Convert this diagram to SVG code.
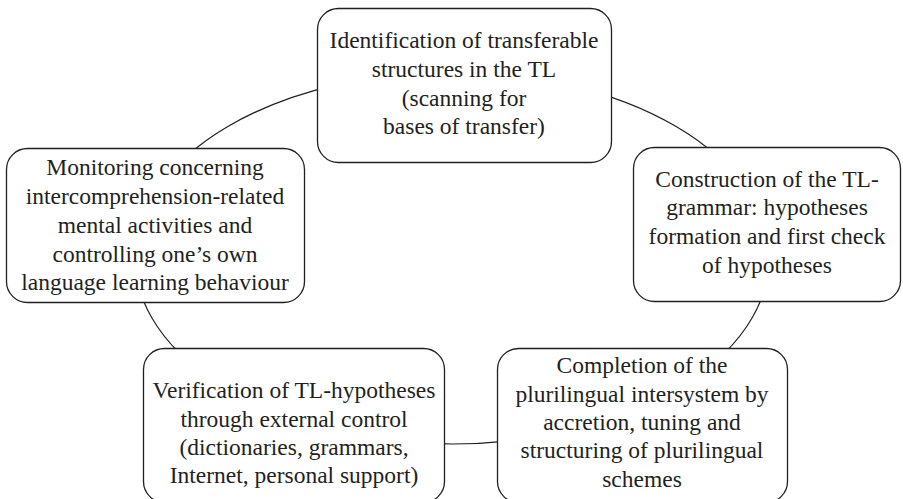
<svg xmlns="http://www.w3.org/2000/svg" width="903" height="499" viewBox="0 0 903 499">
<style>
.box{fill:#fff;stroke:#231f20;stroke-width:1.3}
.conn{fill:none;stroke:#231f20;stroke-width:1.2}
text{font-family:"Liberation Serif","Times New Roman",serif;font-size:23.5px;fill:#231f20;text-anchor:middle}
</style>
<rect width="903" height="499" fill="#fff"/>
<g id="connectors">
<ellipse class="conn" cx="452" cy="258" rx="317" ry="186"/>
</g>
<g id="node-top">
<rect class="box" x="317.5" y="8.5" width="294" height="154" rx="21"/>
<text x="464" y="48">Identification of transferable</text>
<text x="464" y="77">structures in the TL</text>
<text x="464" y="106">(scanning for</text>
<text x="464" y="134">bases of transfer)</text>
</g>
<g id="node-right">
<rect class="box" x="633.5" y="147.5" width="267" height="154" rx="21"/>
<text x="767" y="187">Construction of the TL-</text>
<text x="767" y="215">grammar: hypotheses</text>
<text x="767" y="244">formation and first check</text>
<text x="767" y="273">of hypotheses</text>
</g>
<g id="node-bottom-right">
<rect class="box" x="497.5" y="348.5" width="290" height="154" rx="21"/>
<text x="642" y="373">Completion of the</text>
<text x="642" y="402">plurilingual intersystem by</text>
<text x="642" y="430">accretion, tuning and</text>
<text x="642" y="458">structuring of plurilingual</text>
<text x="642" y="487">schemes</text>
</g>
<g id="node-bottom-left">
<rect class="box" x="143.5" y="348.5" width="301" height="154" rx="21"/>
<text x="294" y="398">Verification of TL-hypotheses</text>
<text x="294" y="427">through external control</text>
<text x="294" y="455">(dictionaries, grammars,</text>
<text x="294" y="483">Internet, personal support)</text>
</g>
<g id="node-left">
<rect class="box" x="6.5" y="148.5" width="298" height="154" rx="21"/>
<text x="155" y="175">Monitoring concerning</text>
<text x="155" y="204">intercomprehension-related</text>
<text x="155" y="233">mental activities and</text>
<text x="155" y="262">controlling one’s own</text>
<text x="155" y="290">language learning behaviour</text>
</g>
</svg>
